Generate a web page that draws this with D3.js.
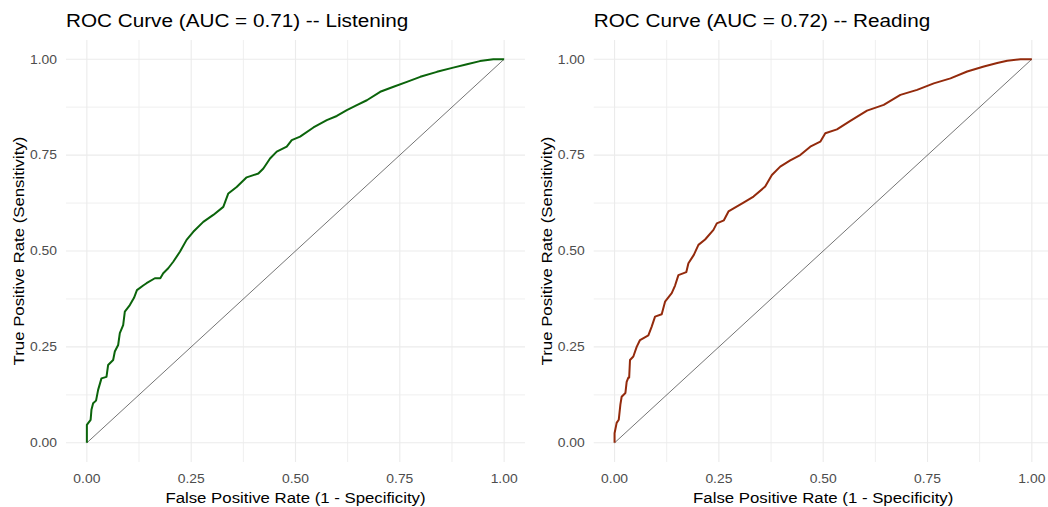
<!DOCTYPE html>
<html>
<head>
<meta charset="utf-8">
<script src="https://cdn.jsdelivr.net/npm/d3@7/dist/d3.min.js"></script>
<style>
  html, body { margin: 0; padding: 0; background: #ffffff; }
  svg { display: block; }
  text { font-family: "Liberation Sans", Arial, sans-serif; }
</style>
</head>
<body>
<svg id="chart" width="1048" height="507"></svg>
<script>
// ROC curve points (false positive rate, true positive rate)
const listeningFpr = [0, 0, 0.009, 0.011, 0.015, 0.022, 0.027, 0.035, 0.047, 0.051, 0.063, 0.067, 0.075, 0.079, 0.087, 0.091, 0.103, 0.113, 0.12, 0.135, 0.143, 0.163, 0.176, 0.183, 0.195, 0.207, 0.223, 0.239, 0.255, 0.279, 0.303, 0.327, 0.339, 0.359, 0.383, 0.411, 0.423, 0.439, 0.455, 0.479, 0.491, 0.511, 0.543, 0.575, 0.599, 0.623, 0.647, 0.671, 0.703, 0.735, 0.767, 0.799, 0.839, 0.878, 0.911, 0.942, 0.974, 1];
const listeningTpr = [0, 0.047, 0.06, 0.086, 0.103, 0.11, 0.138, 0.168, 0.172, 0.203, 0.216, 0.238, 0.255, 0.286, 0.307, 0.342, 0.359, 0.378, 0.398, 0.41, 0.416, 0.429, 0.429, 0.442, 0.455, 0.472, 0.498, 0.529, 0.55, 0.576, 0.594, 0.615, 0.65, 0.667, 0.692, 0.702, 0.715, 0.741, 0.759, 0.772, 0.789, 0.798, 0.822, 0.841, 0.852, 0.867, 0.88, 0.893, 0.915, 0.928, 0.941, 0.954, 0.967, 0.978, 0.987, 0.995, 1, 1];

const readingFpr = [0, 0, 0.005, 0.01, 0.014, 0.017, 0.026, 0.029, 0.033, 0.035, 0.037, 0.045, 0.053, 0.061, 0.081, 0.089, 0.097, 0.113, 0.121, 0.137, 0.145, 0.153, 0.172, 0.177, 0.19, 0.201, 0.217, 0.237, 0.245, 0.262, 0.273, 0.309, 0.333, 0.361, 0.377, 0.397, 0.421, 0.445, 0.469, 0.493, 0.505, 0.533, 0.565, 0.605, 0.645, 0.685, 0.725, 0.765, 0.805, 0.845, 0.885, 0.917, 0.941, 0.973, 1];
const readingTpr = [0, 0.025, 0.052, 0.06, 0.1, 0.12, 0.13, 0.159, 0.17, 0.17, 0.216, 0.225, 0.25, 0.268, 0.28, 0.303, 0.329, 0.335, 0.368, 0.39, 0.41, 0.437, 0.445, 0.468, 0.49, 0.516, 0.53, 0.555, 0.572, 0.58, 0.603, 0.626, 0.642, 0.668, 0.698, 0.72, 0.736, 0.75, 0.772, 0.785, 0.807, 0.817, 0.839, 0.866, 0.881, 0.907, 0.92, 0.937, 0.95, 0.968, 0.981, 0.99, 0.996, 1, 1];

const panelNames = ["Listening", "Reading"];
const aucValues = [0.71, 0.72];
const curveColors = ["#0b640b", "#932a0c"];
const majorTicks = [0, 0.25, 0.5, 0.75, 1];
const minorTicks = [0.125, 0.375, 0.625, 0.875];
const xAxisTitle = "False Positive Rate (1 - Specificity)";
const yAxisTitle = "True Positive Rate (Sensitivity)";

const panels = [
  { name: panelNames[0], auc: aucValues[0], color: curveColors[0],
    pts: listeningFpr.map((d, i) => [d, listeningTpr[i]]) },
  { name: panelNames[1], auc: aucValues[1], color: curveColors[1],
    pts: readingFpr.map((d, i) => [d, readingTpr[i]]) }
];

const svg = d3.select("#chart");
const panelStep = 527.7;
const plot = { left: 66, right: 525, top: 40, bottom: 462 };
const textStretch = 1.12;   // glyphs are drawn slightly wide
const fmt = d3.format(".2f");

panels.forEach((p, k) => {
  const g = svg.append("g").attr("transform", `translate(${k * panelStep},0)`);

  const x = d3.scaleLinear().domain([-0.05, 1.05]).range([plot.left, plot.right]);
  const y = d3.scaleLinear().domain([-0.05, 1.05]).range([plot.bottom, plot.top]);

  // grid: minor then major
  const grid = g.append("g");
  grid.selectAll("line.vminor").data(minorTicks).join("line")
    .attr("x1", d => x(d)).attr("x2", d => x(d))
    .attr("y1", plot.top).attr("y2", plot.bottom)
    .attr("stroke", "#efefef").attr("stroke-width", 1);
  grid.selectAll("line.hminor").data(minorTicks).join("line")
    .attr("y1", d => y(d)).attr("y2", d => y(d))
    .attr("x1", plot.left).attr("x2", plot.right)
    .attr("stroke", "#efefef").attr("stroke-width", 1);
  grid.selectAll("line.vmajor").data(majorTicks).join("line")
    .attr("x1", d => x(d)).attr("x2", d => x(d))
    .attr("y1", plot.top).attr("y2", plot.bottom)
    .attr("stroke", "#ebebeb").attr("stroke-width", 1.1);
  grid.selectAll("line.hmajor").data(majorTicks).join("line")
    .attr("y1", d => y(d)).attr("y2", d => y(d))
    .attr("x1", plot.left).attr("x2", plot.right)
    .attr("stroke", "#ebebeb").attr("stroke-width", 1.1);

  // tick labels
  g.append("g").selectAll("text").data(majorTicks).join("text")
    .attr("transform", d => `translate(${x(d)},483) scale(${textStretch},1)`)
    .attr("text-anchor", "middle")
    .attr("fill", "#4d4d4d")
    .style("font-size", "12.4px")
    .text(d => fmt(d));
  g.append("g").selectAll("text").data(majorTicks).join("text")
    .attr("transform", d => `translate(${plot.left - 9},${y(d) + 4.4}) scale(${textStretch},1)`)
    .attr("text-anchor", "end")
    .attr("fill", "#4d4d4d")
    .style("font-size", "12.4px")
    .text(d => fmt(d));

  // chance diagonal
  g.append("path")
    .datum([[0, 0], [1, 1]])
    .attr("d", d3.line().x(d => x(d[0])).y(d => y(d[1])))
    .attr("fill", "none")
    .attr("stroke", "#000")
    .attr("stroke-width", 0.55);

  // ROC curve
  g.append("path")
    .datum(p.pts)
    .attr("d", d3.line().x(d => x(d[0])).y(d => y(d[1])))
    .attr("fill", "none")
    .attr("stroke", p.color)
    .attr("stroke-width", 2)
    .attr("stroke-linejoin", "round");

  // title
  g.append("text")
    .attr("transform", `translate(${plot.left},27) scale(${textStretch},1)`)
    .attr("fill", "#000")
    .style("font-size", "18.5px")
    .text(`ROC Curve (AUC = ${p.auc.toFixed(2)}) -- ${p.name}`);

  // x axis title
  g.append("text")
    .attr("transform", `translate(${(plot.left + plot.right) / 2},503) scale(${textStretch},1)`)
    .attr("text-anchor", "middle")
    .attr("fill", "#000")
    .style("font-size", "15px")
    .text(xAxisTitle);

  // y axis title
  g.append("text")
    .attr("transform", `translate(24,${(plot.top + plot.bottom) / 2}) rotate(-90) scale(${textStretch},1)`)
    .attr("text-anchor", "middle")
    .attr("fill", "#000")
    .style("font-size", "15px")
    .text(yAxisTitle);
});
</script>
</body>
</html>
